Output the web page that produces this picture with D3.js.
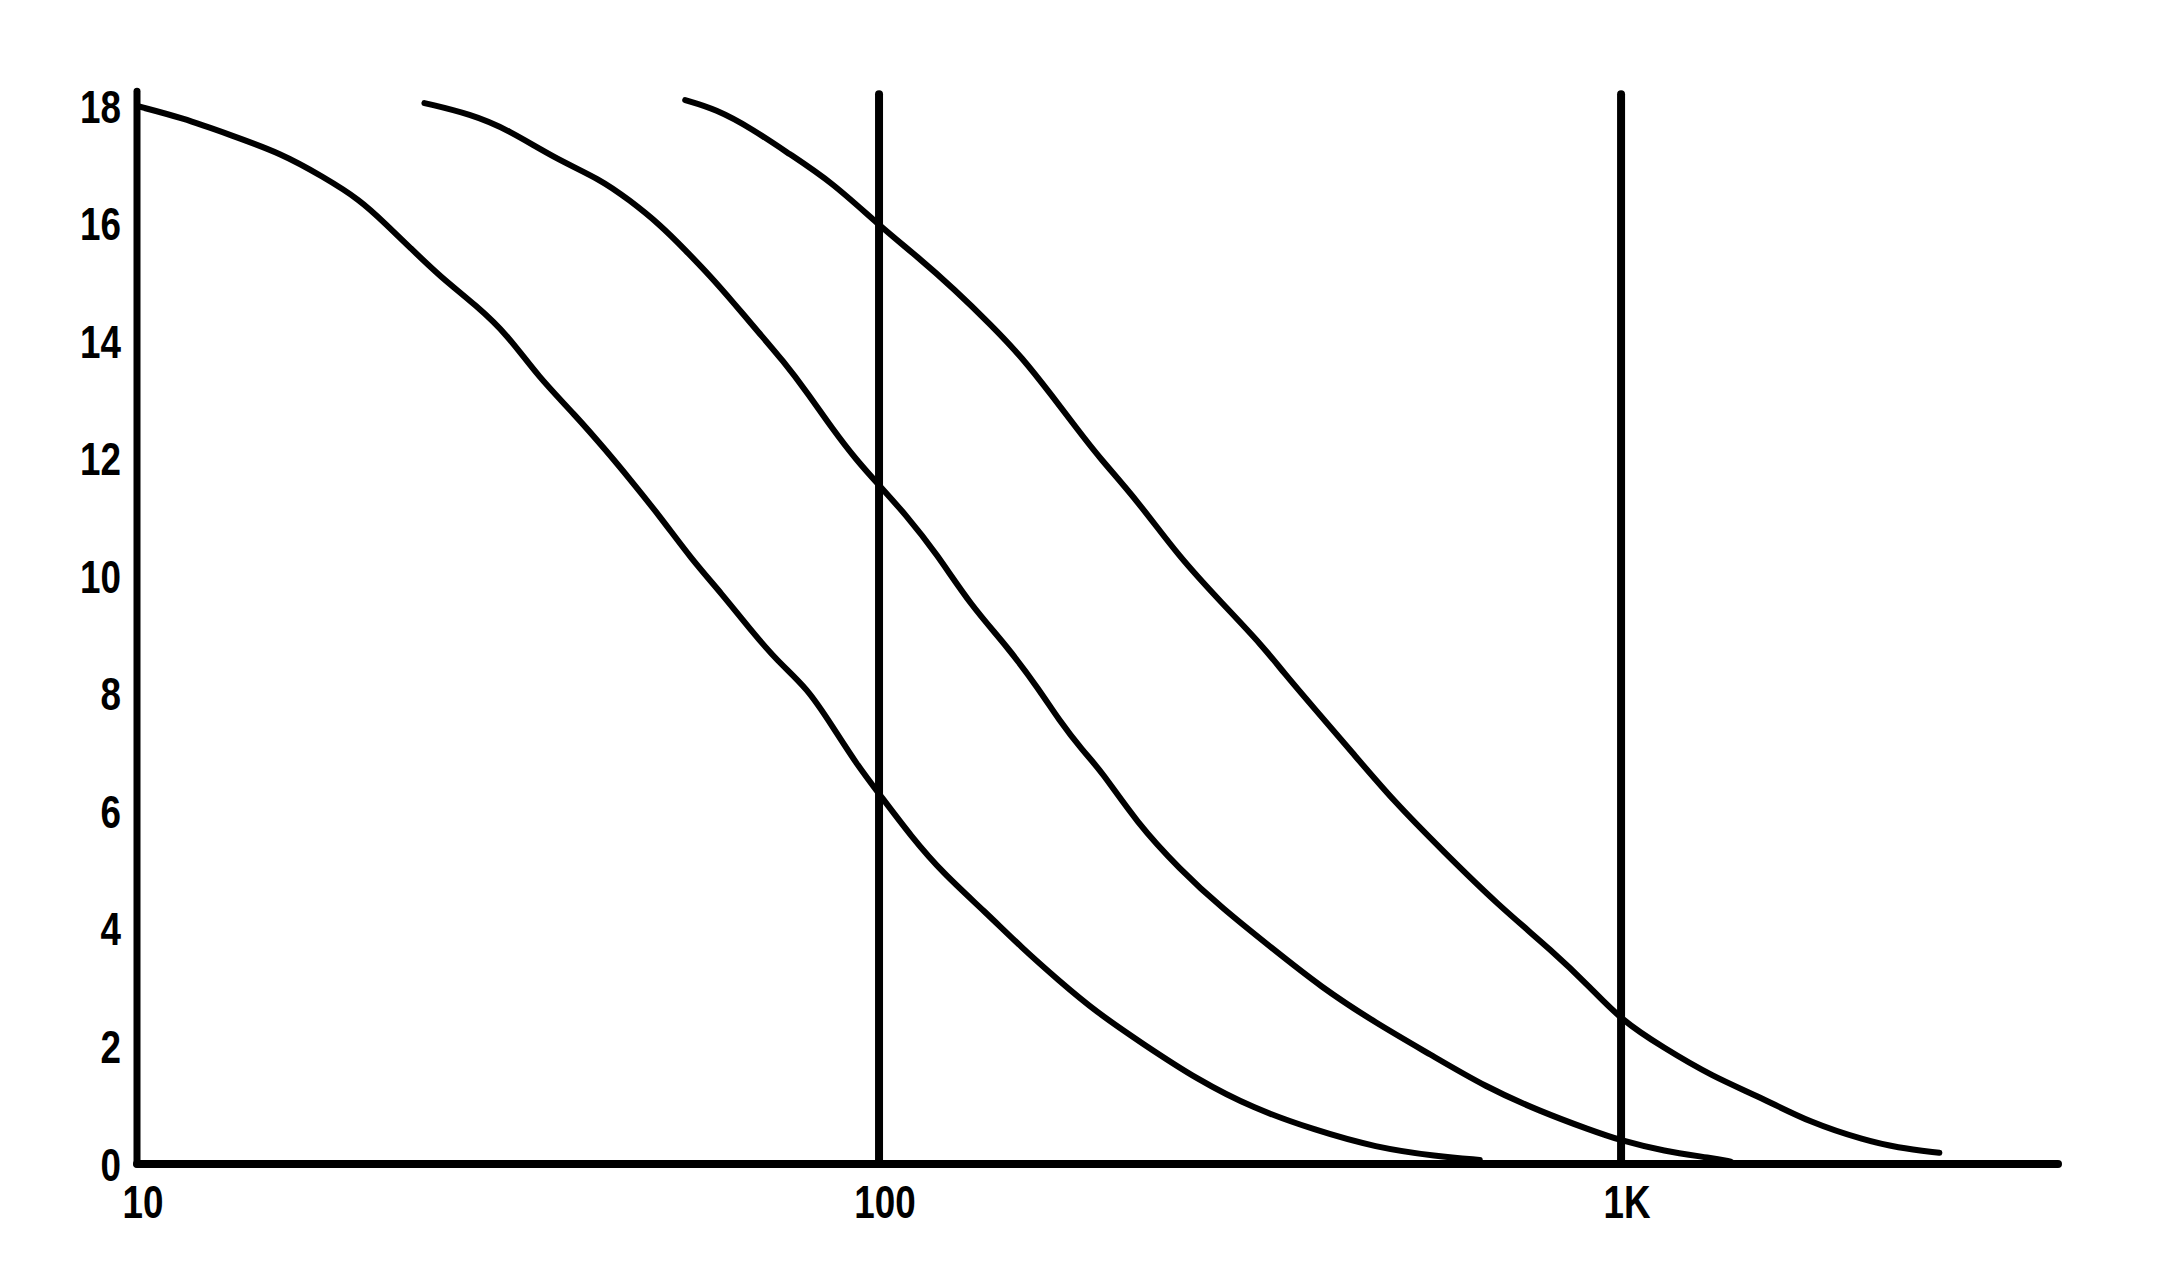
<!DOCTYPE html>
<html>
<head>
<meta charset="utf-8">
<script src="https://cdn.jsdelivr.net/npm/d3@7"></script>
<style>
  html, body { margin: 0; padding: 0; background: #fff; }
  svg { display: block; }
  .lbl { font-family: "Liberation Sans", Arial, sans-serif; font-weight: bold; font-size: 46px; fill: #000; }
</style>
</head>
<body>
<svg id="chart" width="2164" height="1263"></svg>
<script>
// ---- data ----
const xTickValues = [10, 100, 1000];
const xTickLabels = ["10", "100", "1K"];
const yTickValues = [0, 2, 4, 6, 8, 10, 12, 14, 16, 18];
const refLines = [100, 1000];

const curve1 = [[10,18.0],[11.5,17.8],[13.4,17.5],[15.6,17.2],[17.8,16.8],[20.0,16.4],[21.6,16.0],[23.3,15.6],[25.6,15.1],[28.7,14.6],[31.6,14.1],[34.7,13.4],[38.9,12.75],[42.8,12.15],[46.1,11.66],[50.8,11.0],[55.8,10.3],[61.4,9.7],[67,9.1],[73,8.55],[80,8.1],[86.5,7.45],[93.3,6.8],[100,6.3],[110.7,5.56],[121.7,4.96],[139,4.29],[155.7,3.68],[174.4,3.13],[196,2.59],[227,2.04],[269,1.43],[319,0.95],[386,0.58],[467,0.28],[565,0.13],[645,0.07]];
const curve2 = [[24.4,18.05],[28.2,17.86],[31.6,17.6],[36.7,17.1],[42.0,16.76],[46.1,16.4],[50.8,15.97],[54.8,15.55],[59.1,15.12],[63.8,14.64],[68.8,14.15],[74.2,13.67],[80.1,13.12],[86.5,12.51],[93.3,11.97],[100,11.55],[108.6,11.05],[119.5,10.39],[133,9.5],[149,8.8],[164.8,8.05],[174.4,7.57],[188.4,7.02],[199,6.7],[222.5,5.81],[254,5.02],[290,4.35],[338,3.68],[394,3.01],[467,2.40],[554,1.86],[657,1.31],[780,0.89],[908,0.58],[998,0.40],[1140,0.22],[1327,0.10],[1406,0.04]];
const curve3 = [[54.8,18.1],[60.2,17.95],[67.5,17.61],[75.6,17.19],[86.5,16.70],[100,15.97],[112.8,15.43],[126.4,14.88],[141.7,14.27],[155.7,13.73],[171.3,13.06],[184.8,12.51],[198.6,12.0],[222.5,11.30],[254,10.32],[290,9.54],[329,8.81],[351,8.36],[386,7.75],[433,7.02],[494,6.17],[576,5.32],[682,4.41],[809,3.62],[908,3.01],[1000,2.45],[1140,1.98],[1327,1.49],[1545,1.13],[1800,0.70],[2136,0.40],[2350,0.28],[2685,0.19]];
const series = [curve1, curve2, curve3];

// ---- scales ----
const x = d3.scaleLog().domain([10, 3880]).range([137, 2058]);
const y = d3.scaleLinear().domain([0, 18]).range([1164, 106]);
const yTop = 18.2;
const narrow = 0.8;

const svg = d3.select("#chart");

// reference vertical lines
svg.selectAll("line.ref").data(refLines).join("line")
  .attr("class", "ref")
  .attr("x1", d => x(d)).attr("x2", d => x(d))
  .attr("y1", y(0)).attr("y2", y(yTop))
  .attr("stroke", "#000").attr("stroke-width", 8).attr("stroke-linecap", "round");

// axes lines
svg.append("line")
  .attr("x1", x(10)).attr("x2", x(10))
  .attr("y1", y(0)).attr("y2", y(yTop + 0.05))
  .attr("stroke", "#000").attr("stroke-width", 7).attr("stroke-linecap", "round");
svg.append("line")
  .attr("x1", x(10)).attr("x2", x.range()[1])
  .attr("y1", y(0)).attr("y2", y(0))
  .attr("stroke", "#000").attr("stroke-width", 8).attr("stroke-linecap", "round");

// curves
const line = d3.line().x(d => x(d[0])).y(d => y(d[1])).curve(d3.curveBasis);
svg.selectAll("path.curve").data(series).join("path")
  .attr("class", "curve")
  .attr("d", line)
  .attr("fill", "none").attr("stroke", "#000").attr("stroke-width", 6)
  .attr("stroke-linecap", "round").attr("stroke-linejoin", "round");

// y labels
svg.selectAll("text.ylbl").data(yTickValues).join("text")
  .attr("class", "lbl ylbl")
  .attr("transform", d => `translate(${x(10) - 16},${y(d)}) scale(${narrow},1)`)
  .attr("dy", "0.36em")
  .attr("text-anchor", "end")
  .text(d => d);

// x labels
svg.selectAll("text.xlbl").data(xTickValues).join("text")
  .attr("class", "lbl xlbl")
  .attr("transform", d => `translate(${x(d) + 6},${y(0) + 54}) scale(${narrow},1)`)
  .attr("text-anchor", "middle")
  .text((d, i) => xTickLabels[i]);
</script>
</body>
</html>
